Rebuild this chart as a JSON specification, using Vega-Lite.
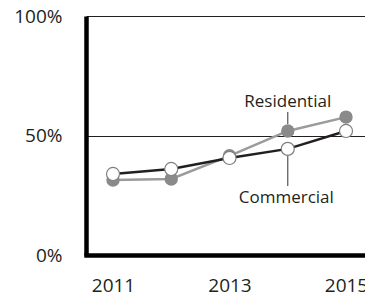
{
  "$schema": "https://vega.github.io/schema/vega-lite/v6.json",
  "width": 279,
  "height": 239,
  "autosize": {"type": "none"},
  "padding": {"left": 86, "top": 16, "right": 0, "bottom": 42},
  "background": "white",
  "config": {"view": {"stroke": null}, "font": "Open Sans"},
  "data": {
    "values": [
      {"sector": "Residential", "year": 2011, "share": 31.4},
      {"sector": "Residential", "year": 2012, "share": 31.8},
      {"sector": "Residential", "year": 2013, "share": 41.5},
      {"sector": "Residential", "year": 2014, "share": 51.9},
      {"sector": "Residential", "year": 2015, "share": 57.7},
      {"sector": "Commercial", "year": 2011, "share": 33.9},
      {"sector": "Commercial", "year": 2012, "share": 36.0},
      {"sector": "Commercial", "year": 2013, "share": 40.6},
      {"sector": "Commercial", "year": 2014, "share": 44.4},
      {"sector": "Commercial", "year": 2015, "share": 51.9}
    ]
  },
  "encoding": {
    "x": {
      "field": "year",
      "type": "quantitative",
      "scale": {"domain": [2010.5365, 2015.326], "nice": false, "zero": false},
      "axis": {
        "values": [2011, 2013, 2015],
        "format": "d",
        "title": null,
        "grid": false,
        "ticks": false,
        "domainColor": "#000000",
        "domainWidth": 4.5,
        "domainCap": "square",
        "labelFont": "Open Sans",
        "labelFontSize": 19,
        "labelColor": "#231f20",
        "labelBaseline": "alphabetic",
        "labelPadding": 36,
        "labelFlush": false,
        "labelOverlap": false
      }
    },
    "y": {
      "field": "share",
      "type": "quantitative",
      "scale": {"domain": [0, 100], "nice": false},
      "axis": {
        "values": [0, 50, 100],
        "labelExpr": "datum.value + '%'",
        "title": null,
        "grid": true,
        "gridColor": "#231f20",
        "gridWidth": 1,
        "gridOpacity": 1,
        "ticks": false,
        "domainColor": "#000000",
        "domainWidth": 4.5,
        "labelFont": "Open Sans",
        "labelFontSize": 19,
        "labelColor": "#231f20",
        "labelPadding": 24,
        "labelFlush": false,
        "labelOverlap": false
      }
    }
  },
  "layer": [
    {
      "transform": [{"filter": "datum.sector === 'Residential'"}],
      "mark": {"type": "line", "color": "#9b9b9b", "strokeWidth": 2.5}
    },
    {
      "transform": [{"filter": "datum.sector === 'Residential'"}],
      "mark": {"type": "circle", "color": "#8a8a8a", "opacity": 1, "size": 180}
    },
    {
      "transform": [{"filter": "datum.sector === 'Commercial'"}],
      "mark": {"type": "line", "color": "#231f20", "strokeWidth": 2.5}
    },
    {
      "transform": [{"filter": "datum.sector === 'Commercial'"}],
      "mark": {"type": "point", "shape": "circle", "filled": true, "fill": "#ffffff", "stroke": "#808080", "strokeWidth": 1.2, "opacity": 1, "fillOpacity": 1, "size": 170}
    },
    {
      "transform": [{"filter": "datum.sector === 'Residential' && datum.year === 2014"}],
      "mark": {"type": "rule", "color": "#555555", "strokeWidth": 1.2, "yOffset": -7, "y2Offset": -19},
      "encoding": {"y2": {"field": "share"}}
    },
    {
      "transform": [{"filter": "datum.sector === 'Residential' && datum.year === 2014"}],
      "mark": {"type": "text", "font": "Open Sans", "fontSize": 17, "color": "#231f20", "baseline": "alphabetic", "align": "center", "dy": -23.5},
      "encoding": {"text": {"field": "sector"}}
    },
    {
      "transform": [{"filter": "datum.sector === 'Commercial' && datum.year === 2014"}],
      "mark": {"type": "rule", "color": "#555555", "strokeWidth": 1.2, "yOffset": 7, "y2Offset": 37},
      "encoding": {"y2": {"field": "share"}}
    },
    {
      "transform": [{"filter": "datum.sector === 'Commercial' && datum.year === 2014"}],
      "mark": {"type": "text", "font": "Open Sans", "fontSize": 17, "color": "#231f20", "baseline": "alphabetic", "align": "center", "dy": 54, "dx": -1.5},
      "encoding": {"text": {"field": "sector"}}
    }
  ]
}
